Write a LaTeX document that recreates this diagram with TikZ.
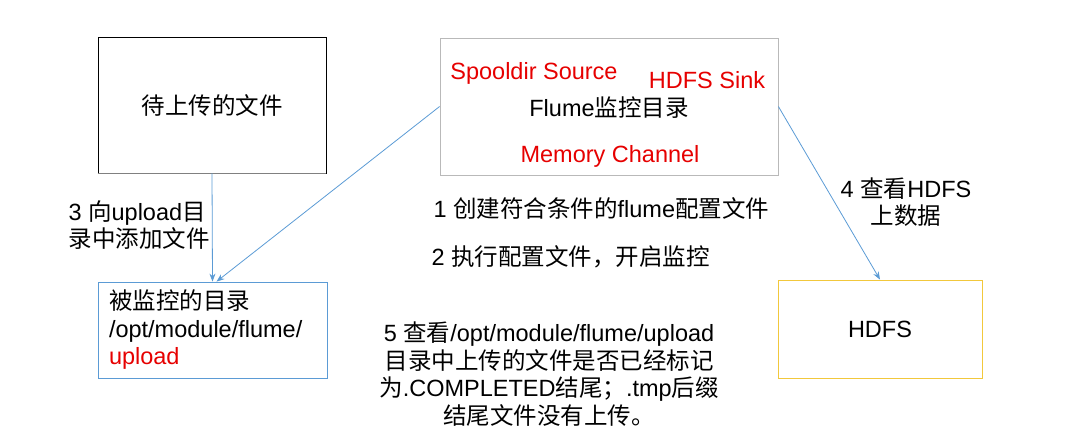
\documentclass[tikz,border=0pt]{standalone}
\usepackage{fontspec}
\setmainfont{Liberation Sans}
\newfontfamily\cjk{Noto Sans CJK SC}
\usetikzlibrary{arrows.meta}

\definecolor{linkblue}{RGB}{91,155,213}
\definecolor{framegray}{RGB}{185,185,185}
\definecolor{hdfsyellow}{RGB}{242,200,60}
\definecolor{partred}{RGB}{230,0,0}

\begin{document}
\begin{tikzpicture}[x=1pt, y=-1pt, >={Stealth[length=8pt,width=6pt]},
    font=\fontsize{23.5}{27.5}\selectfont]
    \useasboundingbox (0,0) rectangle (1082,444);

    % Boxes
    \node[draw, line width=0.8pt, minimum width=228pt, minimum height=136pt] (upfile) at (212,105) {{\cjk 待上传的文件}};
    \draw[gray, line width=1.6pt] (upfile.south west) -- (upfile.south east);
    \node[draw=framegray, line width=0.8pt, minimum width=338pt, minimum height=137pt] (flume) at (609,106.5) {};
    \node[draw=linkblue, line width=0.8pt, minimum width=229pt, minimum height=96pt,
        text width=207pt, inner xsep=11pt, align=left] (watchdir) at (212.5,330)
        {{\cjk 被监控的目录}\\/opt/module/flume/\\\textcolor{partred}{upload}};
    \node[draw=hdfsyellow, line width=0.8pt, minimum width=204pt, minimum height=98pt] (hdfs) at (880,329) {HDFS};

    % Flume parts
    \node[partred] (source) at (534,73) {Spooldir Source};
    \node[partred] (sink) at (707,80) {HDFS Sink};
    \node (agent) at (609,108) {Flume{\cjk 监控目录}};
    \node[partred] (channel) at (610,156) {Memory Channel};

    % Arrows
    \draw[->, linkblue, line width=0.8pt] (upfile.south) -- (watchdir.north);
    \draw[->, linkblue, line width=0.8pt] (flume.west) -- ([xshift=4pt]watchdir.north);
    \draw[->, linkblue, line width=0.8pt] (flume.east) -- (hdfs.north);

    % Steps
    \node[anchor=west, align=left] (step3) at (65,225) {3 {\cjk 向}upload{\cjk 目}\\{\cjk 录中添加文件}};
    \node[anchor=west] (step1) at (430,208) {1 {\cjk 创建符合条件的}flume{\cjk 配置文件}};
    \node[anchor=west] (step2) at (428,257) {2 {\cjk 执行配置文件，开启监控}};
    \node[align=center] (step4) at (906,202) {4 {\cjk 查看}HDFS\\{\cjk 上数据}};
    \node[align=center] (step5) at (549,374) {5 {\cjk 查看}/opt/module/flume/upload\\{\cjk 目录中上传的文件是否已经标记}\\{\cjk 为}.COMPLETED{\cjk 结尾；}.tmp{\cjk 后缀}\\{\cjk 结尾文件没有上传。}};
\end{tikzpicture}
\end{document}
